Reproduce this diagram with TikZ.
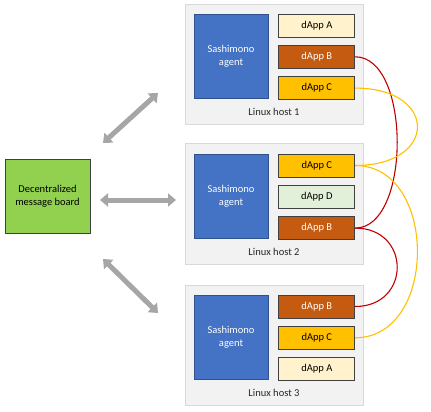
\documentclass[tikz,border=0pt]{standalone}
\usepackage{fontspec}
\setmainfont{Carlito}
\usepackage{tikz}
\usetikzlibrary{positioning, arrows.meta}

\definecolor{hostgray}{HTML}{F2F2F2}
\definecolor{hostline}{HTML}{D9D9D9}
\definecolor{agentblue}{HTML}{4472C4}
\definecolor{agentline}{HTML}{2F528F}
\definecolor{boxline}{HTML}{404040}
\definecolor{dappA}{HTML}{FFF2CC}
\definecolor{dappB}{HTML}{C55A11}
\definecolor{dappC}{HTML}{FFC000}
\definecolor{dappD}{HTML}{E2F0D9}
\definecolor{boardgreen}{HTML}{92D050}
\definecolor{redlink}{HTML}{C00000}
\definecolor{yellowlink}{HTML}{FFC000}
\definecolor{arrowgray}{HTML}{A6A6A6}

\begin{document}
\begin{tikzpicture}[x=1pt, y=1pt,
    host/.style={rectangle, draw=hostline, fill=hostgray, line width=0.8pt, minimum width=178pt, minimum height=120pt, inner sep=0pt},
    agent/.style={rectangle, draw=agentline, fill=agentblue, line width=0.8pt, text=white, align=center, minimum width=74pt, minimum height=84pt, font=\fontsize{10.5}{13}\selectfont},
    dapp/.style={rectangle, draw=boxline, line width=0.8pt, minimum width=76pt, minimum height=23pt, inner sep=0pt, font=\fontsize{10.5}{12}\selectfont},
    appA/.style={dapp, fill=dappA},
    appB/.style={dapp, fill=dappB, text=white},
    appC/.style={dapp, fill=dappC},
    appD/.style={dapp, fill=dappD},
    hostlbl/.style={inner sep=0pt, outer sep=0pt, text=black!85, font=\fontsize{10.5}{12}\selectfont},
    board/.style={rectangle, draw=boxline, fill=boardgreen, line width=0.8pt, align=center, minimum width=85pt, minimum height=74pt, font=\fontsize{10.5}{13}\selectfont},
    bigarrow/.style={draw=arrowgray, line width=5pt, {Triangle[length=8pt, width=13pt]}-{Triangle[length=8pt, width=13pt]}},
    redwire/.style={draw=redlink, line width=1.1pt},
    yellowwire/.style={draw=yellowlink, line width=1.1pt},
    ]
   \useasboundingbox (0,0) rectangle (431,-412);

   % Linux host 1
   \node[host] (host1) at (274,-64) {};
   \node[agent, below right=10pt and 9pt of host1.north west] (agent1) {Sashimono\\agent};
   \node[appA, below right=0pt and 10pt of agent1.north east] (h1_a) {dApp A};
   \node[appB, below=7.5pt of h1_a] (h1_b) {dApp B};
   \node[appC, below=7.5pt of h1_b] (h1_c) {dApp C};
   \node[hostlbl, above=9pt of host1.south] (lbl1) {Linux host 1};

   % Linux host 2
   \node[host, minimum height=121pt] (host2) at (274,-203.5) {};
   \node[agent, below right=11pt and 9pt of host2.north west] (agent2) {Sashimono\\agent};
   \node[appC, below right=0pt and 10pt of agent2.north east] (h2_c) {dApp C};
   \node[appD, below=7.5pt of h2_c] (h2_d) {dApp D};
   \node[appB, below=7.5pt of h2_d] (h2_b) {dApp B};
   \node[hostlbl, above=9pt of host2.south] (lbl2) {Linux host 2};

   % Linux host 3
   \node[host] (host3) at (274,-345) {};
   \node[agent, below right=10pt and 9pt of host3.north west] (agent3) {Sashimono\\agent};
   \node[appB, below right=0pt and 10pt of agent3.north east] (h3_b) {dApp B};
   \node[appC, below=7.5pt of h3_b] (h3_c) {dApp C};
   \node[appA, below=7.5pt of h3_c] (h3_a) {dApp A};
   \node[hostlbl, above=9pt of host3.south] (lbl3) {Linux host 3};

   % Message board and its links.
   \node[board] (board) at (47.5,-196) {Decentralized\\message board};

   \coordinate (mb_up) at (103,-143);
   \coordinate (h1_in) at (158,-93);
   \coordinate (mb_mid) at (100,-200);
   \coordinate (h2_in) at (176,-200);
   \coordinate (mb_low) at (103,-259);
   \coordinate (h3_in) at (158,-313);

   \draw[bigarrow] (mb_up) -- (h1_in);
   \draw[bigarrow] (mb_mid) -- (h2_in);
   \draw[bigarrow] (mb_low) -- (h3_in);

   % Replica links.
   \draw[redwire] (h1_b.east) .. controls +(56,0) and +(56,0) .. (h2_b.east);
   \draw[redwire] (h2_b.east) .. controls +(56,0) and +(56,0) .. (h3_b.east);
   \draw[yellowwire] (h1_c.east) .. controls +(83,0) and +(83,0) .. (h2_c.east);
   \draw[yellowwire] (h2_c.east) .. controls +(83,0) and +(83,0) .. (h3_c.east);

\end{tikzpicture}
\end{document}
